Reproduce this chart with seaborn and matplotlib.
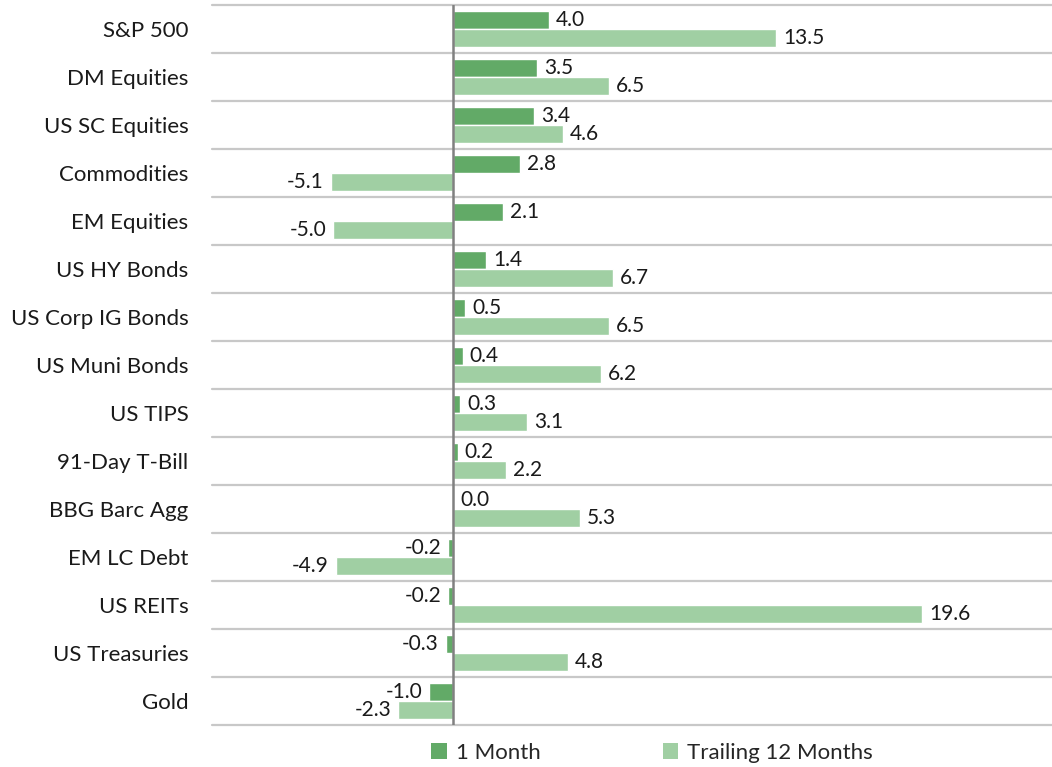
import matplotlib
matplotlib.use("Agg")
import matplotlib.pyplot as plt
import seaborn as sns
import pandas as pd
from matplotlib.patches import Patch

categories = ["S&P 500", "DM Equities", "US SC Equities", "Commodities", "EM Equities",
              "US HY Bonds", "US Corp IG Bonds", "US Muni Bonds", "US TIPS", "91-Day T-Bill",
              "BBG Barc Agg", "EM LC Debt", "US REITs", "US Treasuries", "Gold"]
one_month = [4.0, 3.5, 3.4, 2.8, 2.1, 1.4, 0.5, 0.4, 0.3, 0.2, 0.0, -0.2, -0.2, -0.3, -1.0]
trailing_12m = [13.5, 6.5, 4.6, -5.1, -5.0, 6.7, 6.5, 6.2, 3.1, 2.2, 5.3, -4.9, 19.6, 4.8, -2.3]
series_names = ["1 Month", "Trailing 12 Months"]
colors = ["#62AA67", "#A0CFA3"]

df = pd.DataFrame({
    "category": categories * 2,
    "value": one_month + trailing_12m,
    "series": [series_names[0]] * len(categories) + [series_names[1]] * len(categories),
})

sns.set_style("white")
plt.rcParams["font.family"] = ["Lato", "DejaVu Sans"]

fig = plt.figure(figsize=(10.52, 7.67), dpi=100)
ax = fig.add_axes([212 / 1052, 1 - 725 / 767, 1 - 212 / 1052, 720 / 767])

sns.barplot(data=df, y="category", x="value", hue="series", orient="h",
            palette=colors, width=0.75, dodge=True, ax=ax, legend=False,
            saturation=1, order=categories, hue_order=series_names)

ax.set_xlim(-10.07, 25.03)
ax.set_ylim(len(categories) - 0.5, -0.5)
ax.set_xlabel("")
ax.set_ylabel("")
ax.set_xticks([])
for s in ax.spines.values():
    s.set_visible(False)
ax.tick_params(axis="y", length=0, pad=17, labelsize=16, labelcolor="#1a1a1a")

for i in range(len(categories) + 1):
    ax.axhline(i - 0.5, color="#C8C8C8", lw=1.6, zorder=0, clip_on=False)
ax.axvline(0, color="#808080", lw=1.8, zorder=3)

for container in ax.containers:
    for bar in container:
        w = bar.get_width()
        y = bar.get_y() + bar.get_height() / 2
        if w < 0:
            ax.annotate(f"{w:.1f}", (w, y), xytext=(-5, 0), textcoords="offset points",
                        ha="right", va="center", fontsize=15, color="#1a1a1a")
        else:
            ax.annotate(f"{w:.1f}", (w, y), xytext=(5, 0), textcoords="offset points",
                        ha="left", va="center", fontsize=15, color="#1a1a1a")

handles = [Patch(facecolor=c, edgecolor="none") for c in colors]
fig.legend(handles, series_names, loc="center", bbox_to_anchor=(652 / 1052, 1 - 753 / 767),
           ncol=2, frameon=False, fontsize=16, handlelength=0.7, handleheight=0.7,
           handletextpad=0.4, columnspacing=5.5)

fig.savefig("out.png", dpi=100)
